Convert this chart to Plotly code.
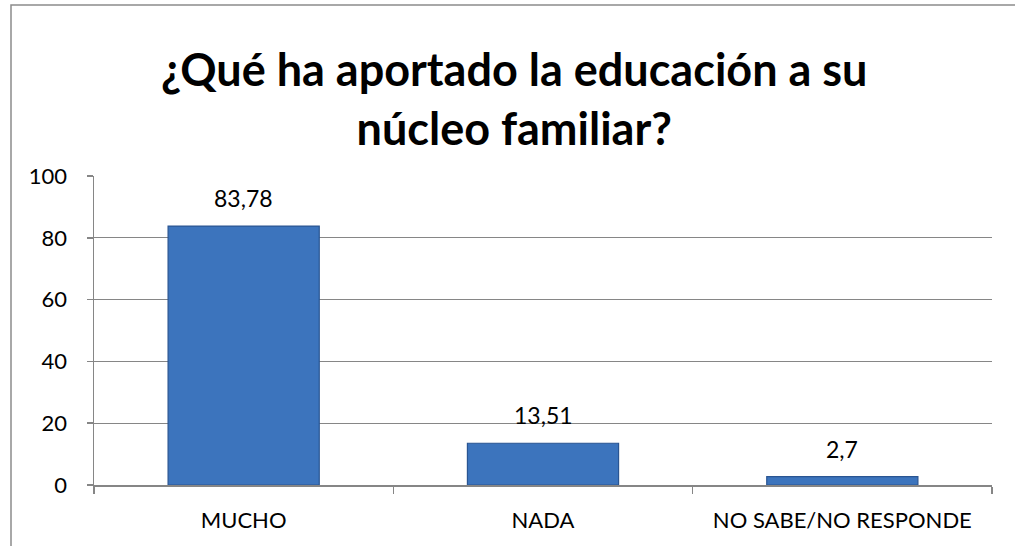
import plotly.graph_objects as go

categories = ["MUCHO", "NADA", "NO SABE/NO RESPONDE"]
values = [83.78, 13.51, 2.7]
y_ticks = [0, 20, 40, 60, 80, 100]
title_text = "¿Qué ha aportado la educación a su<br>núcleo familiar?"

FONT = "Lato"
W, H = 1015, 546
L, R, T, B = 94, 992, 176, 485

fig = go.Figure()
fig.add_trace(go.Bar(
    x=categories, y=values,
    marker=dict(color="#3C74BD", line=dict(color="#2A5592", width=1.2)),
    width=0.505,
    hoverinfo="skip",
))

for c, v in zip(categories, values):
    fig.add_annotation(
        x=c, y=v, xref="x", yref="y",
        text=("%g" % v).replace(".", ","),
        showarrow=False, yanchor="bottom", yshift=12,
        font=dict(family=FONT, size=23, color="#000000"),
    )

pw = R - L
ph = B - T
fig.add_shape(
    type="rect", xref="paper", yref="paper",
    x0=(11 - L) / pw, x1=(1030 - L) / pw,
    y0=(B - 560) / ph, y1=(B - 5) / ph,
    line=dict(color="#8C8C8C", width=1.5), fillcolor="rgba(0,0,0,0)",
    layer="below",
)

fig.add_annotation(
    text="<b>" + title_text + "</b>",
    xref="paper", yref="paper",
    x=(514 - L) / pw, y=(B - 99) / ph,
    xanchor="center", yanchor="middle", showarrow=False,
    font=dict(family=FONT, size=45, color="#000000"),
)

fig.update_layout(
    width=W, height=H,
    margin=dict(l=L, r=W - R, t=T, b=H - B, pad=0),
    paper_bgcolor="white", plot_bgcolor="white",
    showlegend=False,
    separators=",.",
    bargap=0.5,
)
fig.update_xaxes(
    type="category",
    showline=True, linecolor="#868686", linewidth=1.5,
    ticks="outside", tickson="boundaries", ticklen=7, tickcolor="#868686", tickwidth=1.5,
    tickfont=dict(family=FONT, size=22, color="#000000"),
    ticklabelstandoff=15,
    showgrid=False,
)
fig.update_yaxes(
    range=[0, 100], tickvals=y_ticks,
    showline=True, linecolor="#868686", linewidth=1.5,
    showgrid=True, gridcolor="#868686", gridwidth=1.3,
    zeroline=False,
    ticks="outside", ticklen=6, tickcolor="#868686", tickwidth=1.5,
    tickfont=dict(family=FONT, size=22, color="#000000"),
    ticklabelstandoff=15,
)

fig.write_html(
    "out.html",
    config={"displayModeBar": False, "staticPlot": True},
    post_script="document.body.style.margin='0';",
)
